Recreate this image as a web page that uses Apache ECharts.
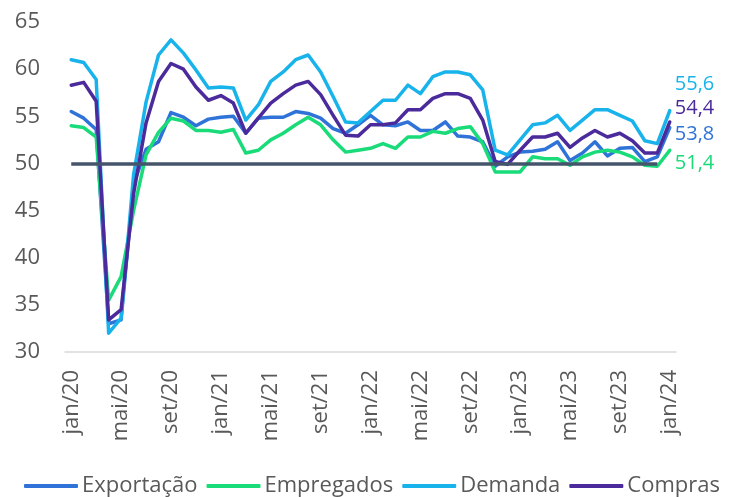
<!DOCTYPE html>
<html>
<head>
<meta charset="utf-8">
<script src="https://cdn.jsdelivr.net/npm/echarts@6/dist/echarts.min.js"></script>
<style>
  html, body { margin: 0; padding: 0; background: #fff; }
  #chart { width: 733px; height: 497px; }
</style>
</head>
<body>
<div id="chart"></div>
<script>
// meses jan/20 .. jan/24
const meses = ['jan', 'fev', 'mar', 'abr', 'mai', 'jun', 'jul', 'ago', 'set', 'out', 'nov', 'dez'];
const anos = ['20', '21', '22', '23', '24'];
const categorias = [];
anos.forEach(a => meses.forEach(m => categorias.push(m + '/' + a)));
categorias.splice(49);

const exportacao = [55.5, 54.8, 53.6, 33.0, 33.4, 47.8, 51.5, 52.3, 55.4, 54.9, 54.0, 54.7,
  54.9, 55.0, 53.2, 54.8, 54.9, 54.9, 55.5, 55.3, 54.8, 53.7, 53.2, 54.1,
  55.1, 54.1, 54.0, 54.4, 53.5, 53.5, 54.4, 52.9, 52.8, 52.3, 49.7, 50.7,
  51.2, 51.3, 51.5, 52.3, 50.3, 51.1, 52.3, 50.8, 51.6, 51.7, 50.2, 50.7, 53.8];
const empregados = [54.0, 53.8, 52.8, 35.5, 38.0, 45.0, 50.9, 53.3, 54.8, 54.5, 53.5, 53.5,
  53.3, 53.6, 51.1, 51.4, 52.5, 53.2, 54.1, 54.9, 54.1, 52.5, 51.2, 51.4,
  51.6, 52.1, 51.6, 52.8, 52.8, 53.4, 53.2, 53.7, 53.9, 52.1, 49.1, 49.1,
  49.1, 50.7, 50.5, 50.5, 49.8, 50.7, 51.2, 51.4, 51.2, 50.7, 49.8, 49.7, 51.4];
const demanda = [61.0, 60.7, 58.9, 32.0, 33.6, 48.8, 56.5, 61.5, 63.1, 61.7, 59.9, 58.0,
  58.1, 58.0, 54.6, 56.2, 58.7, 59.7, 61.0, 61.5, 59.7, 57.1, 54.4, 54.3,
  55.5, 56.7, 56.7, 58.3, 57.4, 59.2, 59.7, 59.7, 59.4, 57.8, 51.4, 50.9,
  52.5, 54.1, 54.3, 55.1, 53.5, 54.6, 55.7, 55.7, 55.1, 54.5, 52.4, 52.1, 55.6];
const compras = [58.3, 58.6, 56.6, 33.4, 34.5, 46.8, 54.3, 58.7, 60.6, 60.0, 58.1, 56.7,
  57.2, 56.4, 53.2, 54.8, 56.4, 57.4, 58.3, 58.7, 57.3, 55.1, 53.0, 52.9,
  54.1, 54.1, 54.3, 55.7, 55.7, 56.9, 57.4, 57.4, 56.9, 54.6, 50.2, 49.9,
  51.4, 52.8, 52.8, 53.2, 51.7, 52.7, 53.5, 52.8, 53.2, 52.4, 51.1, 51.1, 54.4];

const linhaRef = 50;
const refInicio = 'jan/20';
const refFim = 'dez/23';

const fonte = '"Open Sans", "Noto Sans", sans-serif';
const cinza = '#595959';

function serie(nome, dados, cor, dy) {
  return {
    name: nome,
    type: 'line',
    data: dados,
    symbol: 'none',
    lineStyle: { color: cor, width: 3.5, cap: 'round', join: 'round' },
    itemStyle: { color: cor },
    endLabel: {
      show: true,
      color: cor,
      fontFamily: fonte,
      fontSize: 20,
      distance: 5,
      offset: [0, dy],
      formatter: p => p.value.toFixed(1).replace('.', ',')
    }
  };
}

const chart = echarts.init(document.getElementById('chart'));
chart.setOption({
  animation: false,
  grid: { left: 65, right: 57, top: 22, bottom: 145 },
  legend: {
    data: ['Exportação', 'Empregados', 'Demanda', 'Compras'],
    left: 19,
    top: 470,
    icon: 'roundRect',
    itemWidth: 54,
    itemHeight: 4,
    itemGap: 9,
    textStyle: { color: cinza, fontFamily: fonte, fontSize: 22, padding: [0, 0, 0, -1] }
  },
  xAxis: {
    type: 'category',
    data: categorias,
    boundaryGap: true,
    axisLine: { lineStyle: { color: '#D9D9D9', width: 1.5 } },
    axisTick: { interval: 3, length: 8, lineStyle: { color: '#D9D9D9', width: 1.5 } },
    axisLabel: {
      interval: 3,
      rotate: 90,
      margin: 18,
      color: cinza,
      fontFamily: fonte,
      fontSize: 22
    }
  },
  yAxis: {
    type: 'value',
    min: 30,
    max: 65,
    interval: 5,
    axisLine: { show: false },
    axisTick: { show: false },
    splitLine: { show: false },
    axisLabel: { margin: 25, color: cinza, fontFamily: fonte, fontSize: 22 }
  },
  series: [
    {
      name: 'ref',
      type: 'line',
      data: [],
      markLine: {
        silent: true,
        symbol: 'none',
        label: { show: false },
        lineStyle: { color: '#44546A', width: 3.5, type: 'solid' },
        data: [[{ coord: [refInicio, linhaRef] }, { coord: [refFim, linhaRef] }]]
      }
    },
    serie('Exportação', exportacao, '#2F73D8', 7),
    serie('Empregados', empregados, '#19DB79', 13),
    serie('Demanda', demanda, '#19B3EC', -26),
    serie('Compras', compras, '#4B2A9C', -14)
  ]
});
</script>
</body>
</html>
